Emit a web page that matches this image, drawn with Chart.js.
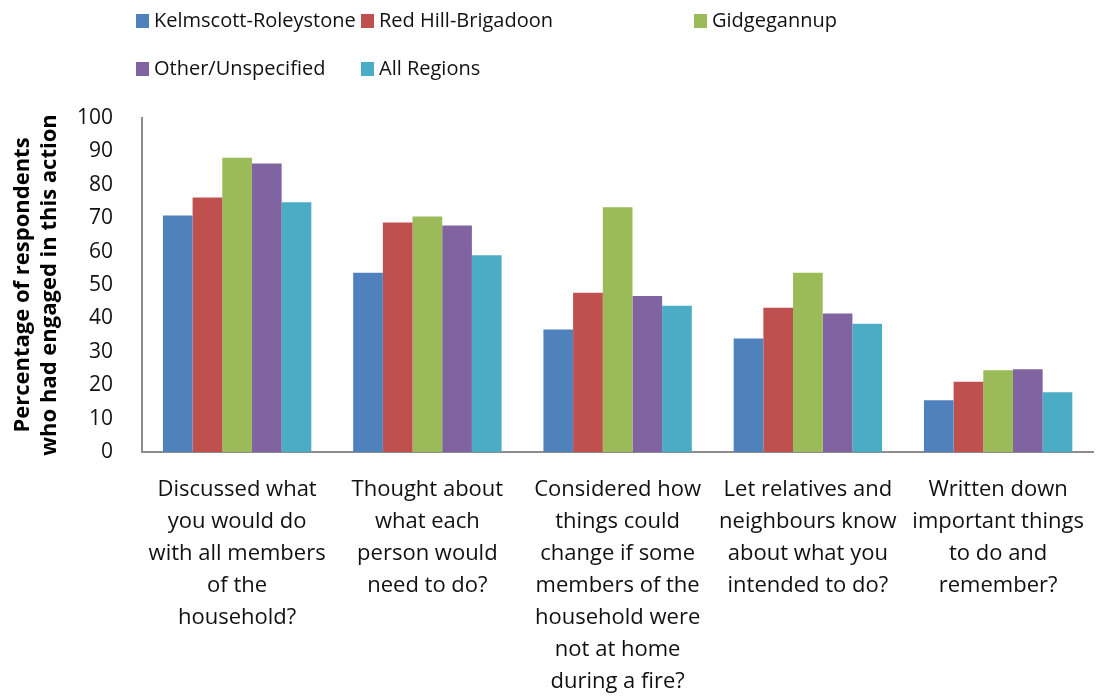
<!DOCTYPE html>
<html>
<head>
<meta charset="utf-8">
<script src="https://cdn.jsdelivr.net/npm/chart.js@4"></script>
<style>
  body { margin: 0; background: #fff; font-family: "Open Sans", sans-serif; }
  #wrap { position: relative; width: 1106px; height: 698px; }
  #legenda { position: absolute; left: 0; top: 0; width: 1106px; height: 100px; }
  .item { position: absolute; font-size: 20px; color: #111; white-space: nowrap; line-height: 24px; }
  .item span.box { display: inline-block; width: 13px; height: 14px; margin-right: 5px; vertical-align: -1px; }
</style>
</head>
<body>
<div id="wrap">
  <div id="legenda"></div>
  <canvas id="grafico" width="1106" height="698"></canvas>
</div>
<script>
// categorias (rótulos do eixo x, uma linha por item)
const categorias = [
    ["Discussed what", "you would do", "with all members", "of the", "household?"],
    ["Thought about", "what each", "person would", "need to do?"],
    ["Considered how", "things could", "change if some", "members of the", "household were", "not at home", "during a fire?"],
    ["Let relatives and", "neighbours know", "about what you", "intended to do?"],
    ["Written down", "important things", "to do and", "remember?"]
];

const regioes = ["Kelmscott-Roleystone", "Red Hill-Brigadoon", "Gidgegannup", "Other/Unspecified", "All Regions"];
const cores = ["#4F81BD", "#C0504D", "#9BBB59", "#8064A2", "#4BACC6"];

// valores (%)
const kelmscott = [70.8, 53.7, 36.7, 34.0, 15.5];
const redHill = [76.2, 68.7, 47.7, 43.2, 21.0];
const gidgegannup = [88.1, 70.5, 73.3, 53.7, 24.5];
const outros = [86.4, 67.8, 46.7, 41.5, 24.8];
const todas = [74.8, 58.9, 43.8, 38.4, 17.9];

const tituloEixoY = ["Percentage of respondents", "who had engaged in this action"];

// legenda em HTML (duas linhas, em grade)
const posLegenda = [[136, 8], [361, 8], [694, 8], [136, 56], [361, 56]];
const legenda = document.getElementById("legenda");
regioes.forEach((nome, i) => {
    const div = document.createElement("div");
    div.className = "item";
    div.style.left = posLegenda[i][0] + "px";
    div.style.top = posLegenda[i][1] + "px";
    div.innerHTML = `<span class="box" style="background:${cores[i]}"></span>${nome}`;
    legenda.appendChild(div);
});

const series = [kelmscott, redHill, gidgegannup, outros, todas];

const ctx = document.getElementById("grafico").getContext("2d");
new Chart(ctx, {
    type: "bar",
    data: {
        labels: categorias,
        datasets: series.map((valores, i) => ({
            label: regioes[i],
            data: valores,
            backgroundColor: cores[i],
            borderWidth: 0,
        })),
    },
    options: {
        responsive: false,
        animation: false,
        layout: { padding: { top: 118, right: 1, left: 0, bottom: 0 } },
        datasets: { bar: { categoryPercentage: 0.78, barPercentage: 1.0 } },
        plugins: {
            legend: { display: false },
            tooltip: { enabled: false },
        },
        scales: {
            x: {
                grid: { display: false, drawTicks: false },
                border: { display: true, color: "#8c8c8c", width: 2 },
                afterFit: (escala) => { escala.height = 246; },
                ticks: {
                    color: "#111",
                    maxRotation: 0,
                    autoSkip: false,
                    padding: 22,
                    font: { family: "Open Sans", size: 22, lineHeight: 1.45 },
                },
            },
            y: {
                min: 0,
                max: 100,
                grid: { display: false, drawTicks: false },
                border: { display: true, color: "#8c8c8c", width: 2 },
                afterFit: (escala) => { escala.width = 142; },
                ticks: {
                    stepSize: 10,
                    color: "#111",
                    padding: 29,
                    font: { family: "Open Sans", size: 21 },
                },
                title: {
                    display: true,
                    text: tituloEixoY,
                    color: "#000",
                    padding: { top: 9, bottom: 0 },
                    font: { family: "Open Sans", size: 22, weight: "bold", lineHeight: 1.23 },
                },
            },
        },
    },
});
</script>
</body>
</html>
